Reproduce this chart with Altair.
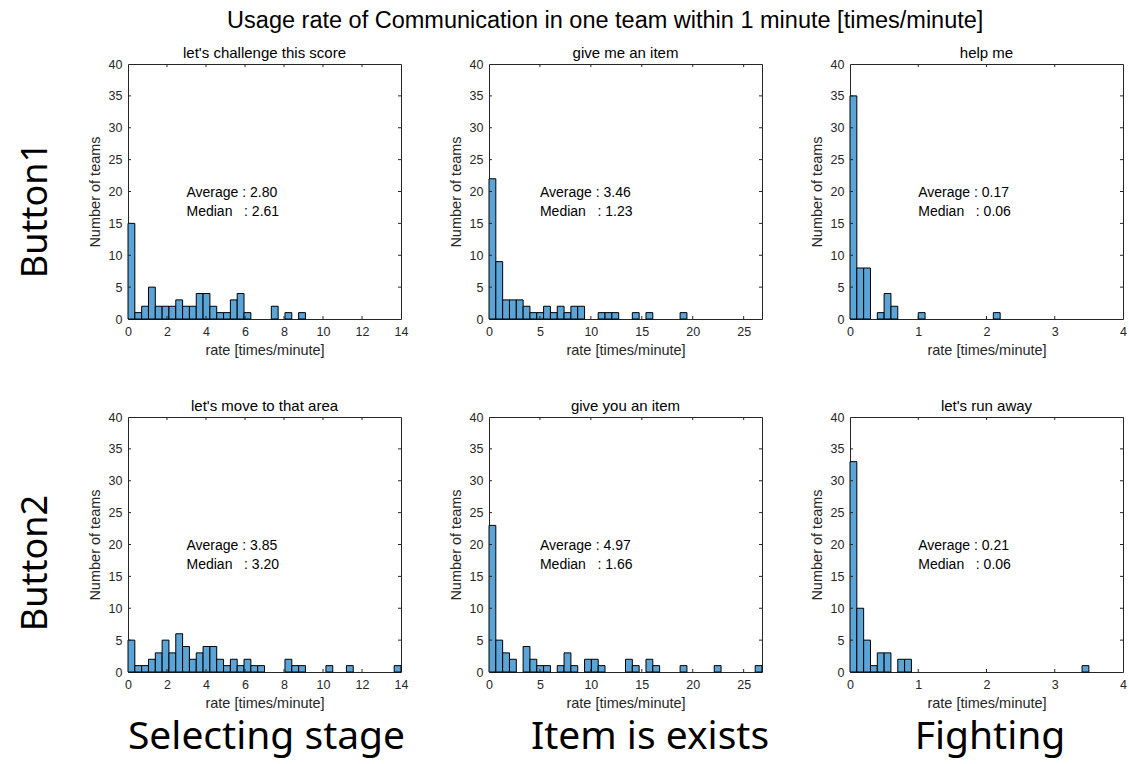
import altair as alt
import pandas as pd

# ---- text ----
SUPTITLE = "Usage rate of Communication in one team within 1 minute [times/minute]"
ROW_LABELS = ["Button1", "Button2"]
COL_LABELS = ["Selecting stage", "Item is exists", "Fighting"]
PANEL_TITLES = [
    ["let's challenge this score", "give me an item", "help me"],
    ["let's move to that area", "give you an item", "let's run away"],
]
AVERAGES = [["2.80", "3.46", "0.17"], ["3.85", "4.97", "0.21"]]
MEDIANS = [["2.61", "1.23", "0.06"], ["3.20", "1.66", "0.06"]]

# ---- axes (per column) ----
X_MAX = [14, 26.8, 4]
X_TICKS = [
    [0, 2, 4, 6, 8, 10, 12, 14],
    [0, 5, 10, 15, 20, 25],
    [0, 1, 2, 3, 4],
]
Y_TICKS = [0, 5, 10, 15, 20, 25, 30, 35, 40]
N_BINS = 40
ANNOT_X = [3, 5, 1]            # x (data units) where the stats text starts
ANNOT_Y = [19.8, 16.8]         # y (data units) of the two stats lines

# ---- histogram counts, 40 equal bins from 0 to X_MAX ----
COUNTS = [
    [
        [15, 1, 2, 5, 2, 2, 2, 3, 2, 2, 4, 4, 2, 1, 1, 3, 4, 1, 0, 0,
         0, 2, 0, 1, 0, 1, 0, 0, 0, 0, 0, 0, 0, 0, 0, 0, 0, 0, 0, 0],
        [22, 9, 3, 3, 3, 2, 1, 1, 2, 1, 2, 1, 2, 2, 0, 0, 1, 1, 1, 0,
         0, 1, 0, 1, 0, 0, 0, 0, 1, 0, 0, 0, 0, 0, 0, 0, 0, 0, 0, 0],
        [35, 8, 8, 0, 1, 4, 2, 0, 0, 0, 1, 0, 0, 0, 0, 0, 0, 0, 0, 0,
         0, 1, 0, 0, 0, 0, 0, 0, 0, 0, 0, 0, 0, 0, 0, 0, 0, 0, 0, 0],
    ],
    [
        [5, 1, 1, 2, 3, 5, 3, 6, 4, 2, 3, 4, 4, 2, 1, 2, 1, 2, 1, 1,
         0, 0, 0, 2, 1, 1, 0, 0, 0, 1, 0, 0, 1, 0, 0, 0, 0, 0, 0, 1],
        [23, 5, 3, 2, 0, 4, 2, 1, 1, 0, 1, 3, 1, 0, 2, 2, 1, 0, 0, 0,
         2, 1, 0, 2, 1, 0, 0, 0, 1, 0, 0, 0, 0, 1, 0, 0, 0, 0, 0, 1],
        [33, 10, 5, 1, 3, 3, 0, 2, 2, 0, 0, 0, 0, 0, 0, 0, 0, 0, 0, 0,
         0, 0, 0, 0, 0, 0, 0, 0, 0, 0, 0, 0, 0, 0, 1, 0, 0, 0, 0, 0],
    ],
]

# ---- style ----
W, H = 273, 255
BAR_FILL = "#5ba4d8"
INK = "#262626"
SMALL_FONT = "Liberation Sans"
BIG_FONT = "Noto Sans"
TICK_LEN = 3


def axis(values, title):
    return alt.Axis(
        values=values, title=title, grid=False, ticks=False, domain=False,
        labelPadding=6, titlePadding=6, labelFontSize=12.5,
        titleFontSize=14.5, labelFont=SMALL_FONT, titleFont=SMALL_FONT,
        labelColor=INK, titleColor=INK, titleFontWeight="normal",
        labelFlush=False)


def histogram(r, c):
    xmax = X_MAX[c]
    width = xmax / N_BINS
    rows = [
        {"lo": i * width, "hi": (i + 1) * width, "n": n}
        for i, n in enumerate(COUNTS[r][c]) if n > 0
    ]
    df = pd.DataFrame(rows)
    xs = alt.Scale(domain=[0, xmax], nice=False, zero=False)
    ys = alt.Scale(domain=[0, 40], nice=False)
    xa = axis(X_TICKS[c], "rate [times/minute]")
    ya = axis(Y_TICKS, "Number of teams")

    bars = alt.Chart(df).mark_rect(
        fill=BAR_FILL, stroke="black", strokeWidth=1
    ).encode(
        x=alt.X("lo:Q", scale=xs, axis=xa),
        x2="hi:Q",
        y=alt.Y("n:Q", scale=ys, axis=ya),
        y2=alt.datum(0),
    )

    # inward ticks on all four sides of the box
    yt = pd.DataFrame({"v": [v for v in Y_TICKS if 0 < v < 40]})
    xt = pd.DataFrame({"v": [v for v in X_TICKS[c] if 0 < v < xmax]})
    tick = dict(color=INK, strokeWidth=1)
    left = alt.Chart(yt).mark_rule(**tick).encode(
        y=alt.Y("v:Q", scale=ys, axis=ya),
        x=alt.value(0), x2=alt.value(TICK_LEN))
    right = alt.Chart(yt).mark_rule(**tick).encode(
        y=alt.Y("v:Q", scale=ys, axis=ya),
        x=alt.value(W - TICK_LEN), x2=alt.value(W))
    top = alt.Chart(xt).mark_rule(**tick).encode(
        x=alt.X("v:Q", scale=xs, axis=xa),
        y=alt.value(0), y2=alt.value(TICK_LEN))
    bottom = alt.Chart(xt).mark_rule(**tick).encode(
        x=alt.X("v:Q", scale=xs, axis=xa),
        y=alt.value(H - TICK_LEN), y2=alt.value(H))

    stats = pd.DataFrame({
        "x": [ANNOT_X[c], ANNOT_X[c]],
        "y": ANNOT_Y,
        "t": [f"Average : {AVERAGES[r][c]}",
              f"Median\u00a0\u00a0\u00a0: {MEDIANS[r][c]}"],
    })
    annot = alt.Chart(stats).mark_text(
        align="left", baseline="middle", font=SMALL_FONT, fontSize=14,
        color="black"
    ).encode(
        x=alt.X("x:Q", scale=xs, axis=xa),
        y=alt.Y("y:Q", scale=ys, axis=ya),
        text="t:N",
    )

    layers = [bars, left, right, top, bottom, annot]

    if c == 0:
        layers.append(alt.Chart(pd.DataFrame({"t": [ROW_LABELS[r]]})).mark_text(
            align="center", baseline="middle", font=BIG_FONT,
            fontSize=36, angle=270, color="black"
        ).encode(text="t:N", x=alt.value(-92), y=alt.value(146)))
    if r == 1:
        cx = [138.5, 161, 140][c]
        layers.append(alt.Chart(pd.DataFrame({"t": [COL_LABELS[c]]})).mark_text(
            align="center", baseline="alphabetic", font=BIG_FONT,
            fontSize=39, color="black"
        ).encode(text="t:N", x=alt.value(cx), y=alt.value(332)))

    return alt.layer(*layers).properties(
        width=W, height=H,
        title=alt.TitleParams(
            PANEL_TITLES[r][c], fontSize=15, font=SMALL_FONT,
            fontWeight="normal", color="black", offset=-3, frame="group"),
    )


panels = [histogram(r, c) for r in range(2) for c in range(3)]

chart = alt.concat(
    *panels, columns=3, spacing={"row": 98, "column": 88}, bounds="flush"
).properties(
    title=alt.TitleParams(
        SUPTITLE, fontSize=23.5, font=SMALL_FONT, fontWeight="normal",
        color="black", anchor="middle", offset=13, dx=33),
    padding={"left": 17, "top": 9, "right": 0, "bottom": 3},
    background="white",
).configure_view(
    stroke=INK, strokeWidth=1
)

chart.save("out.html", embed_options={"renderer": "svg", "actions": False})
